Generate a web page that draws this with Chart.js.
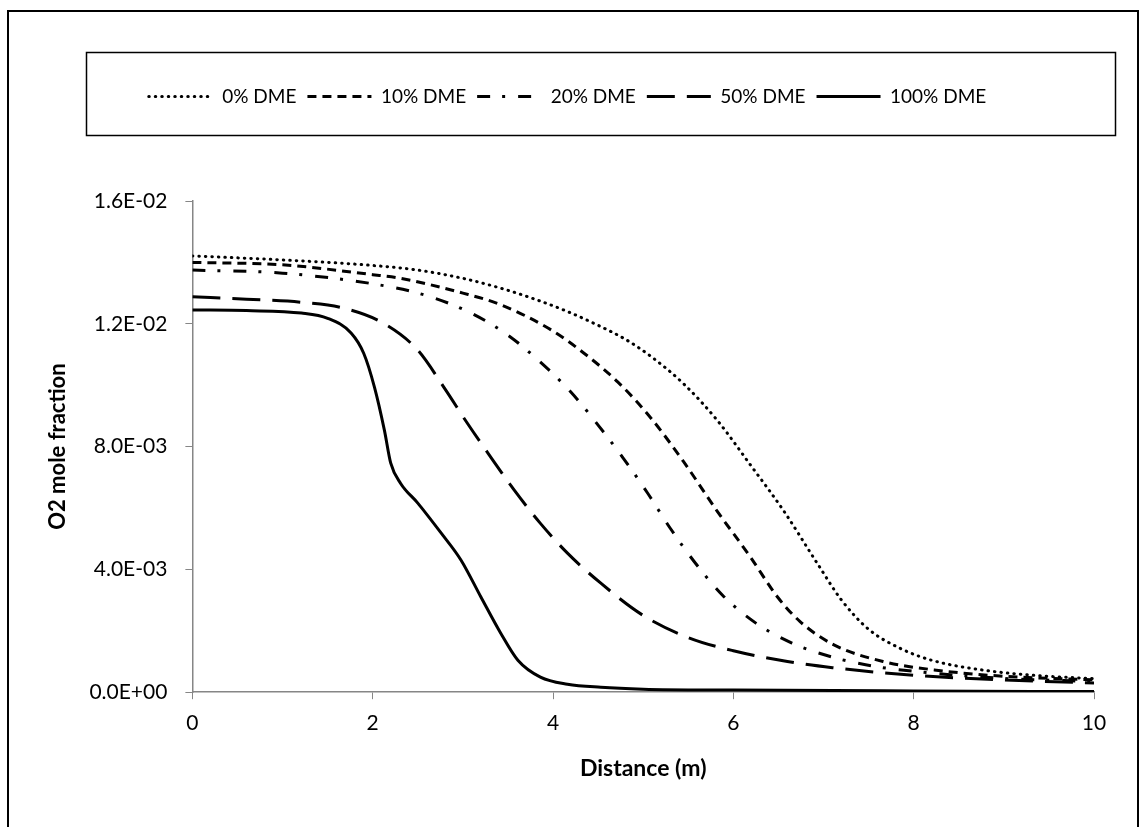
<!DOCTYPE html>
<html>
<head>
<meta charset="utf-8">
<script src="https://cdn.jsdelivr.net/npm/chart.js@4/dist/chart.umd.min.js"></script>
<style>
    html, body { margin: 0; padding: 0; background: #fff; }
    #grafico { display: block; }
</style>
</head>
<body>
<canvas id="grafico" width="1146" height="827"></canvas>
<script>
// Datos: distancia (m) y fracción molar de O2
const nombresSeries = ['0% DME', '10% DME', '20% DME', '50% DME', '100% DME'];

const distancia0 = [0, 1, 2, 2.5, 3, 3.42, 3.8, 4.16, 4.5, 4.8, 5.08, 5.45, 5.82, 6.19, 6.56, 6.93, 7.2, 7.5, 7.85, 8.2, 8.77, 9.33, 10];
const o2_0 = [0.01421, 0.01408, 0.0139, 0.01375, 0.01348, 0.01316, 0.0128, 0.0124, 0.01195, 0.0115, 0.01095, 0.01004, 0.00886, 0.0074, 0.0059, 0.0042, 0.003, 0.00205, 0.00143, 0.00104, 0.00072, 0.00055, 0.00044];

const distancia10 = [0, 1, 2, 2.31, 3, 3.42, 3.98, 4.34, 4.72, 5.08, 5.45, 5.82, 6.19, 6.49, 6.74, 7.11, 7.66, 8.3, 9, 10];
const o2_10 = [0.0140, 0.01392, 0.0136, 0.01348, 0.0130, 0.01262, 0.0118, 0.01105, 0.0101, 0.00895, 0.0075, 0.0059, 0.0044, 0.0031, 0.0023, 0.00155, 0.001, 0.0007, 0.00052, 0.0004];

const distancia20 = [0, 1, 2.2, 2.65, 3.09, 3.5, 3.86, 4.2, 4.5, 4.78, 5.05, 5.3, 5.58, 5.88, 6.25, 6.65, 7.1, 7.55, 8, 9, 10];
const o2_20 = [0.01375, 0.01365, 0.0132, 0.01287, 0.01235, 0.01163, 0.01075, 0.00977, 0.0087, 0.00762, 0.00648, 0.00534, 0.0042, 0.00316, 0.00225, 0.0016, 0.00114, 0.00085, 0.00068, 0.00045, 0.00035];

const distancia50 = [0, 0.6, 1.21, 1.69, 2.13, 2.5, 2.79, 3.05, 3.28, 3.57, 3.86, 4.16, 4.53, 5.0, 5.5, 6, 6.6, 7.1, 8, 9, 10];
const o2_50 = [0.01288, 0.0128, 0.0127, 0.0125, 0.0120, 0.01114, 0.00993, 0.00876, 0.00778, 0.00658, 0.0055, 0.00453, 0.00355, 0.0025, 0.00178, 0.00135, 0.001, 0.0008, 0.00055, 0.0004, 0.0003];

const distancia100 = [0, 0.6, 1.21, 1.5, 1.76, 1.9, 2.02, 2.13, 2.2, 2.31, 2.5, 2.76, 2.98, 3.2, 3.42, 3.61, 3.86, 4.16, 4.53, 5, 6, 8, 10];
const o2_100 = [0.01245, 0.01243, 0.01235, 0.01218, 0.0117, 0.01104, 0.00993, 0.00853, 0.00746, 0.0068, 0.00616, 0.00518, 0.0043, 0.0031, 0.00192, 0.00104, 0.00049, 0.00026, 0.00016, 0.0001, 0.00007, 0.00004, 0.00002];

const ticksX = [0, 2, 4, 6, 8, 10];
const ticksY = [0, 0.004, 0.008, 0.012, 0.016];

// Estilo de cada línea (punteada, guiones, guion-punto, guion largo, continua)
const estilos = [
    { dash: [0.5, 6], cap: 'round' },
    { dash: [9, 6], cap: 'butt' },
    { dash: [13, 12, 3, 13], cap: 'butt' },
    { dash: [28, 12], cap: 'butt' },
    { dash: [], cap: 'butt' }
];

function unirPuntos(xs, ys) {
    return xs.map((x, i) => ({ x: x, y: ys[i] }));
}

// Formato tipo Excel: 1.6E-02
function formatoCientifico(valor) {
    const partes = Number(valor).toExponential(1).split('e');
    const exp = parseInt(partes[1], 10);
    return partes[0] + 'E' + (exp < 0 ? '-' : '+') + String(Math.abs(exp)).padStart(2, '0');
}

const series = [
    unirPuntos(distancia0, o2_0),
    unirPuntos(distancia10, o2_10),
    unirPuntos(distancia20, o2_20),
    unirPuntos(distancia50, o2_50),
    unirPuntos(distancia100, o2_100)
];

// Marco exterior y recuadro de la leyenda
const marcos = {
    id: 'marcos',
    beforeDraw(chart) {
        const ctx = chart.ctx;
        ctx.save();
        ctx.fillStyle = '#fff';
        ctx.fillRect(0, 0, chart.width, chart.height);
        ctx.restore();
    },
    afterDraw(chart) {
        const ctx = chart.ctx;
        ctx.save();
        ctx.strokeStyle = '#000';
        ctx.lineWidth = 2;
        ctx.strokeRect(8, 11, 1130, 840);
        ctx.lineWidth = 1.5;
        ctx.strokeRect(86.5, 52.5, 1029, 83);
        ctx.restore();
    }
};

// Deja espacio entre la leyenda y el área del gráfico
const espacioLeyenda = {
    id: 'espacioLeyenda',
    afterInit(chart) {
        const leyenda = chart.legend;
        const fitOriginal = leyenda.fit.bind(leyenda);
        leyenda.fit = function () {
            fitOriginal();
            this.height += 85;
        };
    }
};

const ctx = document.getElementById('grafico').getContext('2d');

new Chart(ctx, {
    type: 'line',
    data: {
        datasets: series.map((datos, i) => ({
            label: nombresSeries[i],
            data: datos,
            borderColor: '#000',
            backgroundColor: '#000',
            borderWidth: 3,
            borderDash: estilos[i].dash,
            borderCapStyle: estilos[i].cap,
            pointRadius: 0,
            fill: false,
            cubicInterpolationMode: 'monotone'
        }))
    },
    options: {
        responsive: false,
        animation: false,
        devicePixelRatio: 1,
        layout: { padding: { top: 76, left: 41, right: 52, bottom: 41 } },
        plugins: {
            legend: {
                position: 'top',
                labels: {
                    usePointStyle: true,
                    pointStyle: 'line',
                    pointStyleWidth: 64,
                    padding: 11,
                    color: '#000',
                    font: { family: 'Lato', size: 19 },
                    // el estilo de punto no trae el trazo discontinuo, se copia de cada serie
                    generateLabels(chart) {
                        const items = Chart.defaults.plugins.legend.labels.generateLabels(chart);
                        items.forEach((item, i) => {
                            item.lineDash = estilos[i].dash;
                            item.lineCap = estilos[i].cap;
                            item.lineWidth = 3;
                            item.strokeStyle = '#000';
                        });
                        return items;
                    }
                }
            },
            tooltip: { enabled: false }
        },
        scales: {
            x: {
                type: 'linear',
                min: 0,
                max: 10,
                afterBuildTicks(escala) { escala.ticks = ticksX.map(v => ({ value: v })); },
                grid: { drawOnChartArea: false, drawTicks: true, tickLength: 7, color: '#868686' },
                border: { color: '#868686', width: 1.5 },
                ticks: { color: '#000', padding: 11, font: { family: 'Lato', size: 21 } },
                title: {
                    display: true,
                    text: 'Distance (m)',
                    color: '#000',
                    font: { family: 'Lato', size: 23, weight: 'bold' },
                    padding: { top: 8, bottom: 4 }
                }
            },
            y: {
                min: 0,
                max: 0.016,
                afterBuildTicks(escala) { escala.ticks = ticksY.map(v => ({ value: v })); },
                grid: { drawOnChartArea: false, drawTicks: true, tickLength: 7, color: '#868686' },
                border: { color: '#868686', width: 1.5 },
                ticks: {
                    color: '#000',
                    padding: 18,
                    font: { family: 'Lato', size: 21 },
                    callback: valor => formatoCientifico(valor)
                },
                title: {
                    display: true,
                    text: 'O2 mole fraction',
                    color: '#000',
                    font: { family: 'Lato', size: 22, weight: 'bold' },
                    padding: { top: 4, bottom: 0 }
                }
            }
        }
    },
    plugins: [marcos, espacioLeyenda]
});
</script>
</body>
</html>
